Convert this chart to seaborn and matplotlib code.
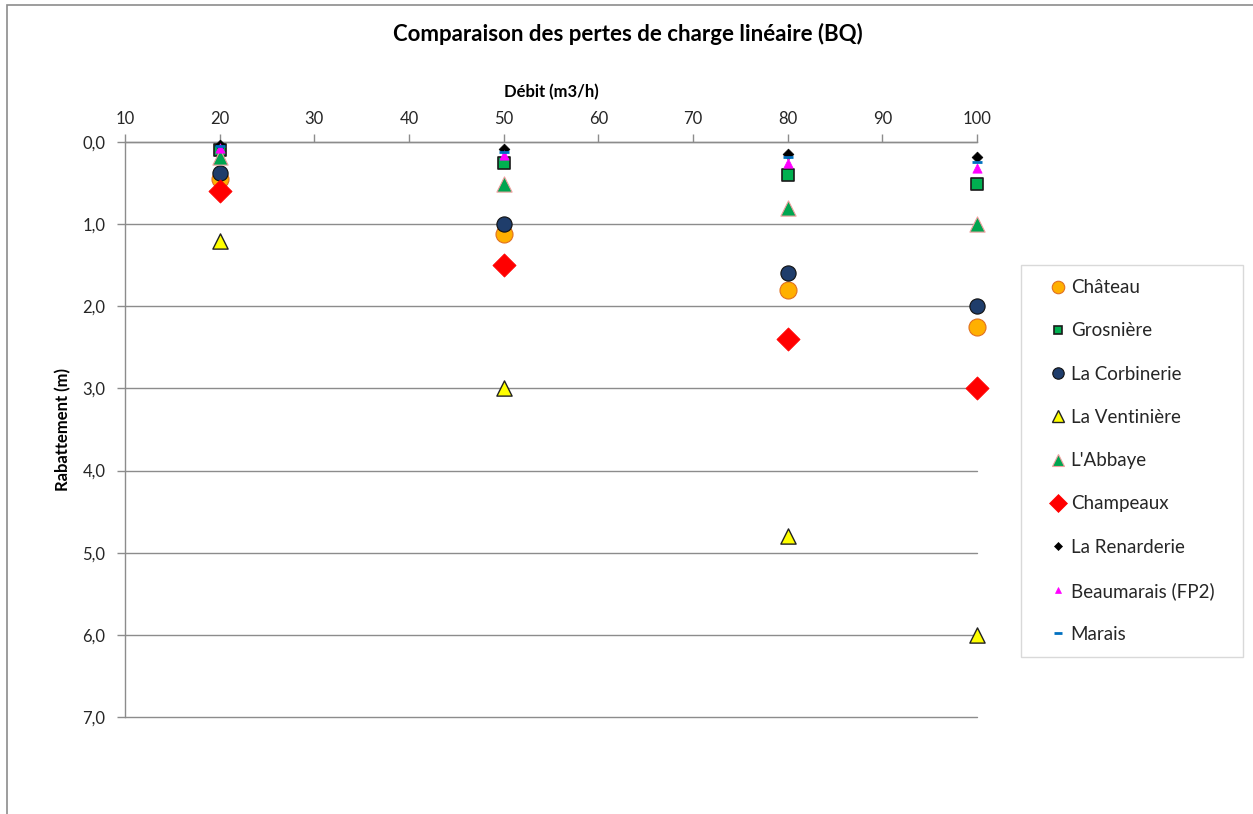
import matplotlib
matplotlib.use("Agg")
import matplotlib.pyplot as plt
from matplotlib.patches import Rectangle
from matplotlib.lines import Line2D
from matplotlib.ticker import FuncFormatter, MultipleLocator
import seaborn as sns
import pandas as pd

# Pumping rates (m3/h) and drawdown (m) per well
debits = [20, 50, 80, 100]
chateau = [0.45, 1.12, 1.8, 2.25]
grosniere = [0.1, 0.26, 0.4, 0.51]
corbinerie = [0.38, 1.0, 1.6, 2.0]
ventiniere = [1.2, 3.0, 4.8, 6.0]
abbaye = [0.18, 0.51, 0.8, 1.0]
champeaux = [0.6, 1.5, 2.4, 3.0]
renarderie = [0.04, 0.08, 0.15, 0.18]
beaumarais = [0.07, 0.16, 0.25, 0.32]
marais = [0.05, 0.12, 0.18, 0.24]

series = [
    ("Château", chateau, dict(marker="o", s=150, color="#FFB000", edgecolor="#E07020", linewidth=0.8)),
    ("Grosnière", grosniere, dict(marker="s", s=70, color="#00B050", edgecolor="#1a1a1a", linewidth=1.2)),
    ("La Corbinerie", corbinerie, dict(marker="o", s=120, color="#1F3D6B", edgecolor="#111111", linewidth=0.8)),
    ("La Ventinière", ventiniere, dict(marker="^", s=120, color="#FFFF00", edgecolor="#222222", linewidth=1.0)),
    ("L'Abbaye", abbaye, dict(marker="^", s=120, color="#00A550", edgecolor="#F0A0A0", linewidth=0.8)),
    ("Champeaux", champeaux, dict(marker="D", s=140, color="#FF0000", edgecolor="#FF0000", linewidth=0.5)),
    ("La Renarderie", renarderie, dict(marker="D", s=30, color="#000000", edgecolor="#000000", linewidth=0.5)),
    ("Beaumarais (FP2)", beaumarais, dict(marker="^", s=45, color="#FF00FF", edgecolor="#FF00FF", linewidth=0.5)),
    ("Marais", marais, dict(marker="_", s=60, color="#0070C0", edgecolor="#0070C0", linewidth=2.0)),
]

sns.set_theme(style="white")
plt.rcParams["font.family"] = ["Lato", "DejaVu Sans"]

W, H = 1253, 814
fig = plt.figure(figsize=(W / 100, H / 100), dpi=100)
ax = fig.add_axes([125 / W, 1 - 717 / H, (977 - 125) / W, (717 - 142) / H])

# Outer chart frame
fig.patches.append(Rectangle((7 / W, -0.1), 1.2, 1 - 5 / H + 0.1, transform=fig.transFigure,
                             fill=False, edgecolor="#8c8c8c", linewidth=1.2, zorder=0))

for name, vals, kw in series:
    df = pd.DataFrame({"Débit": debits, "Rabattement": vals})
    sns.scatterplot(data=df, x="Débit", y="Rabattement", ax=ax, label=name,
                    clip_on=False, zorder=3, legend=False, **kw)

ax.set_xlim(10, 100)
ax.set_ylim(7, 0)
ax.xaxis.set_major_locator(MultipleLocator(10))
ax.yaxis.set_major_locator(MultipleLocator(1))
ax.yaxis.set_major_formatter(FuncFormatter(lambda v, p: f"{v:.1f}".replace(".", ",")))
ax.xaxis.tick_top()
ax.xaxis.set_label_position("top")

grid_c = "#8c8c8c"
ax.grid(axis="y", color=grid_c, linewidth=1.0)
ax.grid(axis="x", visible=False)
for gl in ax.get_ygridlines():
    gl.set_clip_on(False)
for side in ["right", "bottom"]:
    ax.spines[side].set_visible(False)
for side in ["left", "top"]:
    ax.spines[side].set_color(grid_c)
    ax.spines[side].set_linewidth(1.0)
ax.tick_params(axis="both", which="major", direction="out", length=6, width=1.0,
               color=grid_c, labelsize=12, labelcolor="#262626")
ax.tick_params(axis="x", top=True, bottom=False, labeltop=True, labelbottom=False, pad=5)
ax.tick_params(axis="y", left=True, pad=8)

ax.set_xlabel("Débit (m3/h)", fontsize=12, fontweight="bold", labelpad=10, color="#000000")
ax.set_ylabel("Rabattement (m)", fontsize=12, fontweight="bold", labelpad=8, color="#000000")

fig.text(628 / W, 1 - 34 / H, "Comparaison des pertes de charge linéaire (BQ)",
         ha="center", va="center", fontsize=16, fontweight="bold", color="#000000")

handles = []
for name, vals, kw in series:
    handles.append(Line2D([], [], linestyle="none", marker=kw["marker"],
                          markersize=min((kw["s"] ** 0.5) * 0.75, 9),
                          markerfacecolor=kw["color"], markeredgecolor=kw["edgecolor"],
                          markeredgewidth=kw["linewidth"], label=name))
leg = fig.legend(handles=handles, loc="upper left", mode="expand",
                 bbox_to_anchor=(1021 / W, 1 - 265 / H, 222 / W, 0),
                 bbox_transform=fig.transFigure,
                 frameon=True, fancybox=False, fontsize=13.5, labelspacing=1.4,
                 handletextpad=-0.5, handlelength=2.4, borderpad=0.75, borderaxespad=0)
leg.get_frame().set_edgecolor("#d0d0d0")
leg.get_frame().set_linewidth(1.0)

fig.savefig("out.png", dpi=100)
